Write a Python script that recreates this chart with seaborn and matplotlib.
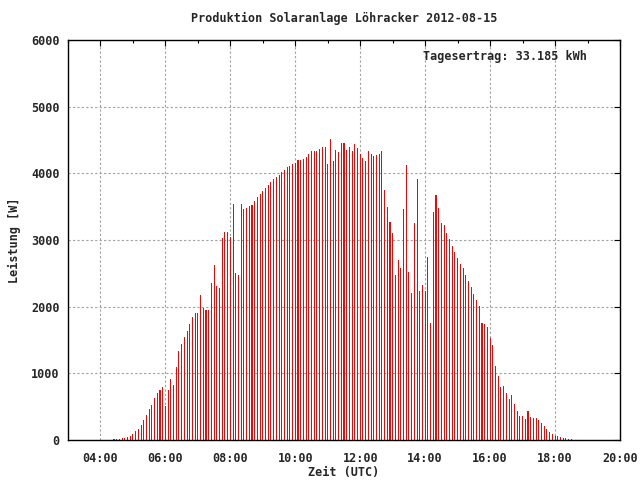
import matplotlib
matplotlib.use('Agg')
import matplotlib.pyplot as plt
import seaborn as sns
import pandas as pd
from matplotlib.ticker import MultipleLocator

# Messwerte Leistung [W], alle 5 Minuten ab 04:25 UTC
leistung = [
    15, 15, 15, 30, 30, 45, 60, 90, 135, 165, 225, 300, 375, 465, 525, 630,
    705, 750, 795, 510, 750, 915, 825, 1095, 1335, 1440,
    1545, 1635, 1740, 1845, 1905, 1905, 2175, 1980, 1950, 1950, 2355, 2625,
    2310, 2280, 3030, 3120, 3120, 3045, 3540, 2505, 2475, 3540, 3465, 3480,
    3510, 3525, 3585, 3645, 3690, 3735, 3780, 3825,
    3870, 3915, 3945, 3975, 4020, 4050, 4095, 4110, 4140, 4155, 4200, 4200,
    4215, 4245, 4290, 4335, 4335, 4335, 4365, 4395, 4395, 4140, 4515, 4185,
    4350, 4320,
    4455, 4455, 4350, 4395, 4335, 4440, 4380, 4290, 4230, 4185, 4335, 4290,
    4260, 4275, 4290, 4335, 3750, 3495, 3270, 3105, 2475, 2700, 2580, 3465,
    4125, 2520, 2205, 3255, 3915, 2235,
    2325, 2235, 2745, 1755, 3420, 3675, 3480, 3255, 3225, 3105, 3015, 2910,
    2820, 2730, 2640, 2580, 2475, 2385, 2295, 2190, 2100, 2010, 1755, 1740,
    1695, 1530, 1425, 1110, 960,
    795, 810, 705, 615, 675, 540, 435, 360, 360, 315, 435, 345, 330, 330,
    300, 255, 210, 165, 120, 90, 60, 60, 45, 30, 30, 15, 15,
]
start = '2012-08-15 04:25'

x_ticks = [4, 6, 8, 10, 12, 14, 16, 18, 20]
x_labels = ['04:00', '06:00', '08:00', '10:00', '12:00', '14:00', '16:00', '18:00', '20:00']
y_ticks = [0, 1000, 2000, 3000, 4000, 5000, 6000]

zeit = pd.date_range(start, periods=len(leistung), freq='5min')
stunden = (zeit - zeit.normalize()).total_seconds() / 3600
df = pd.DataFrame({'Stunde': stunden, 'Leistung': leistung})

sns.set_style('white')
plt.rcParams['font.family'] = ['DejaVu Sans Mono']
plt.rcParams['font.weight'] = 'bold'
plt.rcParams['axes.labelweight'] = 'bold'
plt.rcParams['font.size'] = 8.5

fig = plt.figure(figsize=(6.4, 4.8), dpi=100)
ax = fig.add_axes([68 / 640, 40 / 480, 552 / 640, 400 / 480])

sns.barplot(data=df, x='Stunde', y='Leistung', native_scale=True, width=0.37,
            color='red', saturation=1, linewidth=0, errorbar=None,
            antialiased=False, ax=ax)

ax.set_xlim(3, 20)
ax.set_ylim(0, 6000)
ax.set_xticks(x_ticks)
ax.set_xticklabels(x_labels)
ax.set_yticks(y_ticks)
ax.xaxis.set_minor_locator(MultipleLocator(1))
ax.tick_params(which='both', direction='in', top=True, right=True, color='black')
ax.tick_params(which='major', length=4, width=0.8)
ax.tick_params(which='minor', length=2.5, width=0.8)
ax.tick_params(axis='x', pad=9)
ax.tick_params(axis='y', pad=6)

ax.set_axisbelow(True)
ax.grid(True, which='major', color='#a0a0a0', linestyle=(0, (2, 2)), linewidth=0.8)
for s in ax.spines.values():
    s.set_color('black')
    s.set_linewidth(1.0)

ax.set_xlabel('Zeit (UTC)')
ax.set_ylabel('Leistung [W]')
ax.xaxis.set_label_coords(0.5, -0.065)
ax.yaxis.set_label_coords(-0.086, 0.5)

fig.text(344 / 640, 1 - 18 / 480, 'Produktion Solaranlage Löhracker 2012-08-15',
         ha='center', va='center')
ax.text(0.94, 0.958, 'Tagesertrag: 33.185 kWh', transform=ax.transAxes,
        ha='right', va='center')

fig.savefig('out.png', dpi=100)
